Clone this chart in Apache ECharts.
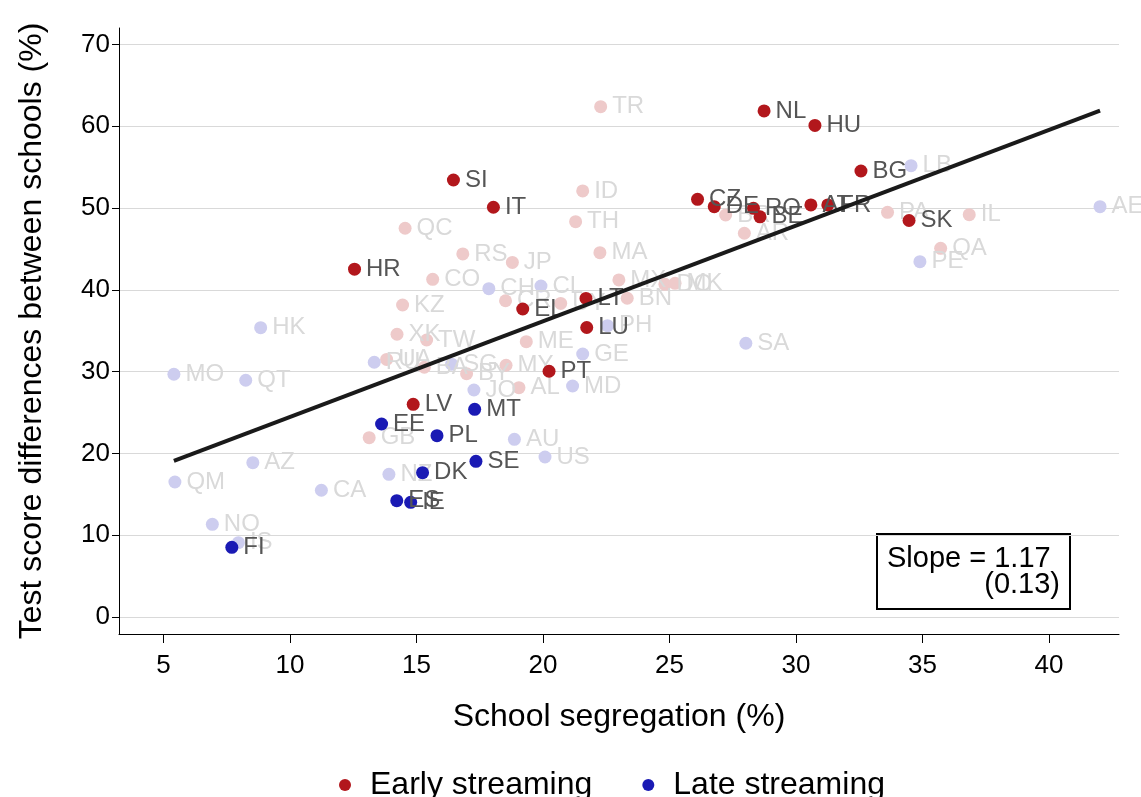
<!DOCTYPE html>
<html>
<head>
<meta charset="utf-8">
<script src="https://cdn.jsdelivr.net/npm/echarts@6/dist/echarts.min.js"></script>
<style>
  html, body { margin: 0; padding: 0; background: #ffffff; }
  #chart { width: 1141px; height: 797px; }
</style>
</head>
<body>
<div id="chart"></div>
<script>
// School segregation (%) vs. test score differences between schools (%)

// EU members, early streaming
const earlyCodes = ['SI', 'IT', 'HR', 'NL', 'HU', 'BG', 'CZ', 'DE', 'RO', 'BE', 'AT', 'FR', 'SK', 'LT', 'EL', 'LU', 'PT', 'LV'];
const earlySeg   = [16.46, 18.04, 12.55, 28.74, 30.75, 32.57, 26.11, 26.77, 28.32, 28.58, 30.59, 31.26, 34.47, 21.70, 19.20, 21.73, 20.24, 14.87];
const earlyGap   = [53.42, 50.09, 42.52, 61.86, 60.09, 54.52, 51.06, 50.16, 49.96, 48.92, 50.37, 50.37, 48.47, 38.94, 37.65, 35.39, 30.04, 26.00];

// EU members, late streaming
const lateCodes = ['EE', 'PL', 'MT', 'SE', 'DK', 'ES', 'IE', 'FI'];
const lateSeg   = [13.62, 15.81, 17.30, 17.35, 15.24, 14.22, 14.77, 7.70];
const lateGap   = [23.59, 22.16, 25.39, 19.03, 17.64, 14.22, 14.02, 8.52];

// Other education systems, early streaming
const otherEarlyCodes = ['TR', 'ID', 'TH', 'MA', 'QC', 'RS', 'JP', 'CO', 'KZ', 'XK', 'TW', 'MX', 'DO', 'MK', 'BN', 'CR', 'UY', 'ME', 'MY', 'AL', 'BY', 'BA', 'UA', 'GB', 'BR', 'AR', 'PA', 'IL', 'QA'];
const otherEarlySeg   = [22.28, 21.57, 21.29, 22.25, 14.55, 16.83, 18.79, 15.64, 14.45, 14.23, 15.40, 23.00, 24.82, 25.22, 23.33, 18.52, 20.70, 19.34, 18.54, 19.05, 16.98, 15.31, 13.82, 13.13, 27.22, 27.96, 33.62, 36.85, 35.72];
const otherEarlyGap   = [62.38, 52.08, 48.33, 44.54, 47.52, 44.38, 43.34, 41.28, 38.14, 34.56, 33.86, 41.20, 40.67, 40.79, 38.96, 38.66, 38.33, 33.66, 30.77, 28.03, 29.74, 30.53, 31.48, 21.92, 49.14, 46.91, 49.47, 49.18, 45.07];

// Other education systems, late streaming
const otherLateCodes = ['LB', 'AE', 'PE', 'CH', 'CL', 'PH', 'SA', 'GE', 'MD', 'AU', 'US', 'HK', 'MO', 'QT', 'AZ', 'QM', 'CA', 'NO', 'IS', 'NZ', 'JO', 'SG', 'RU'];
const otherLateSeg   = [34.55, 42.02, 34.90, 17.86, 19.92, 22.55, 28.02, 21.57, 21.17, 18.87, 20.08, 8.84, 5.41, 8.25, 8.53, 5.45, 11.24, 6.93, 7.96, 13.91, 17.27, 16.39, 13.33];
const otherLateGap   = [55.17, 50.16, 43.44, 40.13, 40.46, 35.61, 33.46, 32.15, 28.24, 21.72, 19.56, 35.37, 29.67, 28.94, 18.86, 16.50, 15.49, 11.33, 9.08, 17.44, 27.75, 30.90, 31.14];

// Linear fit across all systems
const fitSlope = 1.17;
const fitSlopeSE = 0.13;
const fitIntercept = 12.75;

// Axis ticks
const xTicks = [5, 10, 15, 20, 25, 30, 35, 40];
const yTicks = [0, 10, 20, 30, 40, 50, 60, 70];

const FONT = '"Liberation Sans", Arial, Helvetica, sans-serif';
const COLORS = {
  early: '#b2171c',
  late: '#1a1ab4',
  earlyLight: '#eecaca',
  lateLight: '#cdcdef',
  labelDark: '#555555',
  labelLight: '#d9d9d9'
};

function points(codes, xs, ys) {
  return codes.map((c, i) => ({ name: c, value: [xs[i], ys[i]] }));
}

function scatter(name, data, color, labelColor, z) {
  return {
    name: name,
    type: 'scatter',
    data: data,
    symbol: 'circle',
    symbolSize: 13,
    z: z,
    itemStyle: { color: color, opacity: 1 },
    label: {
      show: true,
      position: 'right',
      distance: 5,
      formatter: '{b}',
      color: labelColor,
      fontFamily: FONT,
      fontSize: 24
    },
    emphasis: { disabled: true },
    silent: true,
    animation: false
  };
}

const allSeg = earlySeg.concat(lateSeg, otherEarlySeg, otherLateSeg);
const segMin = Math.min(...allSeg);
const segMax = Math.max(...allSeg);
const fitLine = [segMin, segMax].map(x => [x, fitIntercept + fitSlope * x]);

const chart = echarts.init(document.getElementById('chart'), null, { renderer: 'canvas' });

chart.setOption({
  animation: false,
  backgroundColor: '#ffffff',
  textStyle: { fontFamily: FONT },
  grid: { left: 119, right: 22, top: 28, bottom: 163, containLabel: false },
  legend: {
    data: ['Early streaming', 'Late streaming'],
    left: 334,
    top: 764,
    icon: 'circle',
    itemWidth: 40,
    itemHeight: 12,
    itemGap: 50,
    textStyle: { fontFamily: FONT, fontSize: 32, color: '#000000' },
    selectedMode: false
  },
  xAxis: {
    type: 'value',
    min: 3.24,
    max: 42.77,
    name: 'School segregation (%)',
    nameLocation: 'middle',
    nameGap: 67,
    nameTextStyle: { fontFamily: FONT, fontSize: 32, color: '#000000' },
    axisLine: { show: true, onZero: false, lineStyle: { color: '#000000', width: 1 } },
    axisTick: { show: true, customValues: xTicks, length: 9, lineStyle: { color: '#000000', width: 1 } },
    axisLabel: { customValues: xTicks, margin: 19, fontFamily: FONT, fontSize: 26, color: '#000000' },
    splitLine: { show: false }
  },
  yAxis: {
    type: 'value',
    min: -2.08,
    max: 72,
    name: 'Test score differences between schools (%)',
    nameLocation: 'middle',
    nameGap: 71,
    nameTextStyle: { fontFamily: FONT, fontSize: 32, color: '#000000' },
    axisLine: { show: true, onZero: false, lineStyle: { color: '#000000', width: 1 } },
    axisTick: { show: true, customValues: yTicks, length: 7, lineStyle: { color: '#000000', width: 1 } },
    axisLabel: { customValues: yTicks, margin: 9, fontFamily: FONT, fontSize: 26, color: '#000000' },
    splitLine: { show: true, lineStyle: { color: '#d9d9d9', width: 1 } }
  },
  series: [
    scatter('Early streaming (other)', points(otherEarlyCodes, otherEarlySeg, otherEarlyGap), COLORS.earlyLight, COLORS.labelLight, 2),
    scatter('Late streaming (other)', points(otherLateCodes, otherLateSeg, otherLateGap), COLORS.lateLight, COLORS.labelLight, 2),
    scatter('Early streaming', points(earlyCodes, earlySeg, earlyGap), COLORS.early, COLORS.labelDark, 3),
    scatter('Late streaming', points(lateCodes, lateSeg, lateGap), COLORS.late, COLORS.labelDark, 3),
    {
      name: 'Fit',
      type: 'line',
      data: fitLine,
      symbol: 'none',
      z: 4,
      lineStyle: { color: '#1a1a1a', width: 4 },
      silent: true,
      animation: false
    }
  ],
  graphic: [
    {
      type: 'group',
      left: 876,
      top: 533,
      children: [
        { type: 'rect', shape: { x: 0, y: 0, width: 193, height: 75 }, style: { fill: '#ffffff', stroke: '#000000', lineWidth: 2 } },
        { type: 'text', x: 10, y: 10, style: { text: 'Slope = ' + fitSlope.toFixed(2), fontFamily: FONT, fontSize: 29, fill: '#000000' } },
        { type: 'text', x: 183, y: 36, style: { text: '(' + fitSlopeSE.toFixed(2) + ')', fontFamily: FONT, fontSize: 29, fill: '#000000', align: 'right' } }
      ]
    }
  ]
});
</script>
</body>
</html>
